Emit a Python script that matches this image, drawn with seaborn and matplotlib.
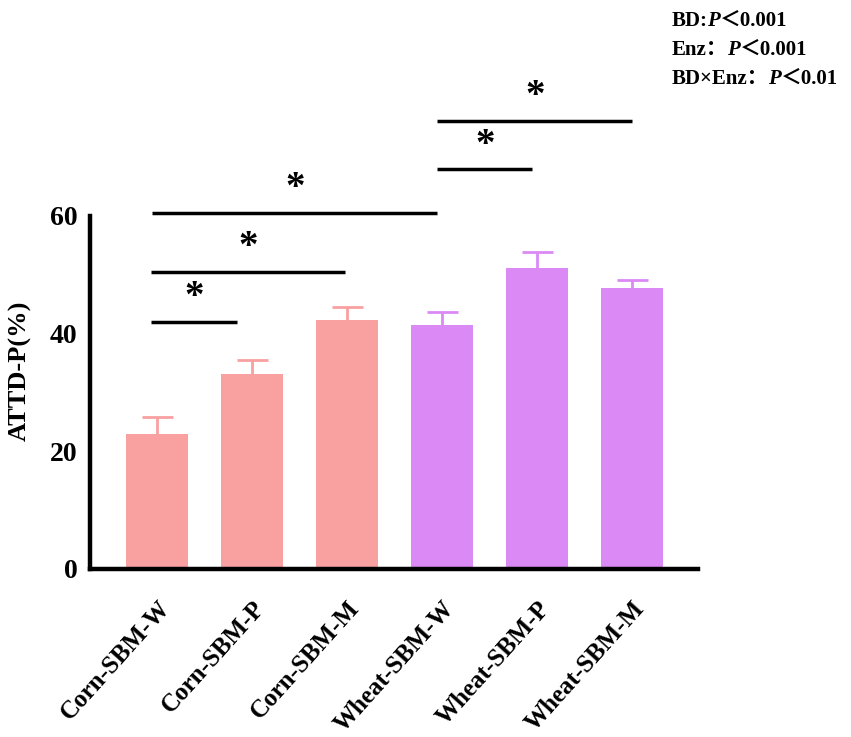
import pandas as pd
import numpy as np
import matplotlib
matplotlib.use('Agg')
import matplotlib.pyplot as plt
import seaborn as sns

# data
groups = ['Corn-SBM-W', 'Corn-SBM-P', 'Corn-SBM-M', 'Wheat-SBM-W', 'Wheat-SBM-P', 'Wheat-SBM-M']
grain = ['Corn', 'Corn', 'Corn', 'Wheat', 'Wheat', 'Wheat']
means = [22.9, 33.1, 42.3, 41.5, 51.2, 47.8]
sems = [2.9, 2.4, 2.2, 2.2, 2.7, 1.3]

# significance lines: start / end (category units) and height
sig_start = [-0.07, -0.07, -0.05, 2.95, 2.95]
sig_end = [0.84, 1.98, 2.95, 3.95, 5.0]
sig_height = [42.0, 50.5, 60.5, 67.9, 76.2]

stats_lines = [('BD:', 'P', '＜0.001'), ('Enz：', 'P', '＜0.001'), ('BD×Enz：', 'P', '＜0.01')]

colors = {'Corn': '#F9A0A0', 'Wheat': '#DB8AF5'}

sns.set_style('white')
plt.rcParams['font.family'] = ['Liberation Serif', 'Noto Sans CJK SC', 'DejaVu Sans']
plt.rcParams['font.weight'] = 'bold'
plt.rcParams['text.color'] = 'black'
plt.rcParams['axes.labelcolor'] = 'black'
plt.rcParams['xtick.color'] = 'black'
plt.rcParams['ytick.color'] = 'black'

df = pd.DataFrame({'group': groups, 'grain': grain, 'mean': means, 'sem': sems})

fig = plt.figure(figsize=(8.51, 7.37), dpi=100)
ax = fig.add_axes([0.106, 0.228, 0.714, 0.479])

sns.barplot(data=df, x='group', y='mean', hue='grain', palette=colors, dodge=False,
            width=0.65, errorbar=None, legend=False, ax=ax, saturation=1, linewidth=0)

# upward error bars in bar colour
for i, row in df.iterrows():
    c = colors[row['grain']]
    top = row['mean'] + row['sem']
    ax.vlines(i, row['mean'], top, color=c, lw=2)
    ax.hlines(top, i - 0.165, i + 0.165, color=c, lw=2)

ax.set_ylim(0, 60)
ax.set_xlim(-0.705, 5.69)
ax.set_yticks([0, 20, 40, 60])
ax.set_ylabel('ATTD-P(%)', fontsize=19, fontweight='bold')
ax.yaxis.set_label_coords(-0.097, 0.56)
ax.set_xlabel('')
ax.set_xticks(range(len(groups)))
ax.set_xticklabels(groups, rotation=48, ha='right', rotation_mode='anchor',
                   fontsize=18, fontweight='bold')
for lab in ax.get_yticklabels():
    lab.set_fontsize(20)
    lab.set_fontweight('bold')

sns.despine(ax=ax)
for sp in ['left', 'bottom']:
    ax.spines[sp].set_linewidth(3.2)
    ax.spines[sp].set_color('black')
ax.tick_params(axis='both', direction='out', length=7, width=3, color='black', pad=2)
ax.tick_params(axis='x', length=12, pad=8)

# significance lines with stars
for s, e, h in zip(sig_start, sig_end, sig_height):
    ax.plot([s, e], [h, h], color='black', lw=2.5, clip_on=False, solid_capstyle='butt')
    ax.text((s + e) / 2, h + 1.0, '*', ha='center', va='bottom',
            fontsize=28, fontweight='bold', clip_on=False)

# statistics block, italic P
y0 = 0.985
for i, (a, p, b) in enumerate(stats_lines):
    t1 = fig.text(0.789, y0 - i * 0.039, a, fontsize=15, fontweight='bold', va='top')
    t2 = ax.annotate(p, xy=(1, 0), xycoords=t1, va='bottom', fontsize=15,
                     fontweight='bold', fontstyle='italic')
    ax.annotate(b, xy=(1, 0), xycoords=t2, va='bottom', fontsize=15, fontweight='bold')

fig.savefig('out.png', dpi=100)
